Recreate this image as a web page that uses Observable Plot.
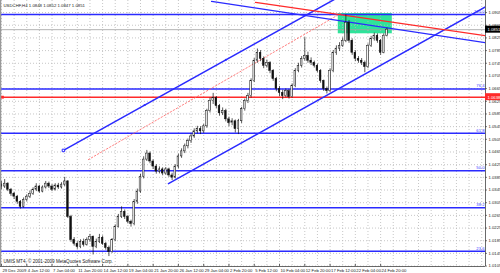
<!DOCTYPE html>
<html><head><meta charset="utf-8">
<script src="https://cdn.jsdelivr.net/npm/d3@7"></script>
<script src="https://cdn.jsdelivr.net/npm/@observablehq/plot@0.6"></script>
<style>body{margin:0;background:#fff;overflow:hidden}</style>
</head><body><div id="chart"></div>
<script>
// ---- text ----
const symbolTitle = "USDCHF,H4 1.0848 1.0852 1.0847 1.0851";
const copyright = "UMIS MT4, © 2001-2009 MetaQuotes Software Corp.";
const timeLabels = ["29 Dec 2009","4 Jan 12:00","7 Jan 04:00","11 Jan 20:00","14 Jan 12:00","19 Jan 04:00","21 Jan 20:00","26 Jan 12:00","29 Jan 04:00","2 Feb 20:00","5 Feb 12:00","10 Feb 04:00","12 Feb 20:00","17 Feb 12:00","22 Feb 04:00","24 Feb 20:00"];
const priceTicks = [1.0905,1.0865,1.0825,1.0785,1.0745,1.0705,1.0665,1.0625,1.0585,1.0545,1.0505,1.0465,1.0425,1.0385,1.0345,1.0305,1.0265,1.0225,1.0185,1.0145,1.0105];

// ---- candles (each candle = 2 H4 bars) ----
const firstOpen = 1.0362;
const closes = [1.0356,1.0365,1.0346,1.0333,1.0324,1.0308,1.0292,1.0314,1.0324,1.0333,
1.0346,1.0356,1.0340,1.0353,1.0365,1.0356,1.0346,1.0359,1.0353,1.0362,
1.0372,1.0260,1.0187,1.0175,1.0165,1.0181,1.0172,1.0187,1.0197,1.0165,
1.0181,1.0194,1.0175,1.0162,1.0149,1.0187,1.0229,1.0260,1.0276,1.0260,
1.0245,1.0238,1.0308,1.0340,1.0387,1.0441,1.0460,1.0435,1.0419,1.0403,
1.0410,1.0397,1.0410,1.0391,1.0384,1.0419,1.0451,1.0467,1.0483,1.0499,
1.0514,1.0530,1.0537,1.0530,1.0546,1.0594,1.0626,1.0635,1.0610,1.0587,
1.0594,1.0568,1.0556,1.0562,1.0537,1.0562,1.0600,1.0626,1.0641,1.0689,
1.0753,1.0778,1.0759,1.0737,1.0746,1.0721,1.0695,1.0664,1.0651,1.0641,
1.0657,1.0638,1.0673,1.0721,1.0737,1.0759,1.0768,1.0753,1.0746,1.0737,
1.0721,1.0689,1.0664,1.0657,1.0721,1.0778,1.0791,1.0800,1.0816,1.0873,
1.0816,1.0778,1.0759,1.0753,1.0746,1.0733,1.0800,1.0822,1.0832,1.0816,
1.0778,1.0832,1.0851];
const highs = [1.0372,1.0378,1.0368,1.0350,1.0338,1.0328,1.0312,1.0320,1.0330,1.0342,
1.0352,1.0365,1.0360,1.0358,1.0372,1.0370,1.0362,1.0365,1.0366,1.0368,
1.0385,1.0375,1.0265,1.0195,1.0182,1.0188,1.0190,1.0194,1.0205,1.0200,
1.0190,1.0205,1.0200,1.0180,1.0168,1.0192,1.0235,1.0268,1.0292,1.0282,
1.0265,1.0250,1.0315,1.0348,1.0395,1.0450,1.0470,1.0465,1.0440,1.0425,
1.0418,1.0415,1.0416,1.0414,1.0398,1.0425,1.0458,1.0475,1.0490,1.0506,
1.0522,1.0538,1.0546,1.0545,1.0552,1.0600,1.0635,1.0650,1.0640,1.0615,
1.0604,1.0600,1.0575,1.0570,1.0566,1.0568,1.0606,1.0632,1.0650,1.0696,
1.0760,1.0790,1.0785,1.0765,1.0755,1.0750,1.0725,1.0700,1.0672,1.0660,
1.0664,1.0662,1.0680,1.0728,1.0745,1.0766,1.0826,1.0780,1.0762,1.0752,
1.0742,1.0725,1.0692,1.0670,1.0728,1.0785,1.0800,1.0810,1.0825,1.0898,
1.0880,1.0822,1.0785,1.0766,1.0760,1.0752,1.0806,1.0830,1.0840,1.0838,
1.0820,1.0838,1.0856];
const lows = [1.0346,1.0350,1.0340,1.0325,1.0315,1.0300,1.0285,1.0288,1.0308,1.0318,
1.0328,1.0340,1.0335,1.0336,1.0348,1.0350,1.0340,1.0342,1.0347,1.0348,
1.0356,1.0255,1.0180,1.0168,1.0158,1.0160,1.0165,1.0168,1.0180,1.0140,
1.0160,1.0176,1.0170,1.0155,1.0135,1.0145,1.0182,1.0225,1.0255,1.0252,
1.0238,1.0228,1.0232,1.0300,1.0335,1.0380,1.0435,1.0428,1.0410,1.0395,
1.0396,1.0390,1.0392,1.0385,1.0375,1.0380,1.0412,1.0445,1.0460,1.0475,
1.0492,1.0508,1.0522,1.0520,1.0524,1.0540,1.0588,1.0615,1.0602,1.0578,
1.0580,1.0560,1.0545,1.0548,1.0525,1.0520,1.0555,1.0594,1.0618,1.0635,
1.0684,1.0745,1.0750,1.0728,1.0730,1.0712,1.0688,1.0655,1.0640,1.0630,
1.0636,1.0632,1.0635,1.0668,1.0715,1.0730,1.0752,1.0745,1.0738,1.0730,
1.0715,1.0682,1.0656,1.0648,1.0652,1.0715,1.0770,1.0782,1.0795,1.0810,
1.0808,1.0770,1.0750,1.0745,1.0738,1.0715,1.0728,1.0795,1.0815,1.0808,
1.0770,1.0775,1.0828];

// ---- drawn objects (t = candle index, price) ----
const channelUpper = [{t:19.6, price:1.0470},{t:106, price:1.0950}];
const channelLower = [{t:52.85, price:1.0365},{t:153.2, price:1.0923}];
const channelAnchors = [{t:19.6, price:1.0470},{t:45.3, price:1.0613},{t:71, price:1.0756}];
const resistanceBlue = [{t:66.5, price:1.0940},{t:153.2, price:1.0810}];
const resistanceRed = [{t:80.4, price:1.0937},{t:153.2, price:1.0832}];
const fibTrend = [{t:27.5, price:1.0441},{t:107.3, price:1.0902}];
const fibLevels = [1.0899,1.0664,1.0524,1.0406,1.0289,1.0152];
const fibNames = ["100.0","76.4","61.8","50.0","38.2","23.6"];
const supportLevel = 1.0638;
const zoneT = [106.6, 123.7];
const zonePrice = [1.0838, 1.0902];
const lastPrice = 1.0851;

// ---- build ----
const candles = closes.map((c, i) => ({
  i, open: i === 0 ? firstOpen : closes[i - 1], close: c, high: highs[i], low: lows[i]
}));
const xDomain = [-0.316, 153.2];
const yDomain = [1.010365, 1.09431];
const gridX = d3.range(0, 153, 4);
const tickT = timeLabels.map((_, k) => 8 * k);
const boxW = 5;
const font = "Liberation Sans, DejaVu Sans, sans-serif";

const chart = Plot.plot({
  width: 500, height: 273,
  marginLeft: 0, marginRight: 15, marginTop: 0, marginBottom: 7,
  x: {type: "linear", domain: xDomain, axis: null},
  y: {type: "linear", domain: yDomain, axis: null},
  style: {fontFamily: font, background: "white", overflow: "visible"},
  marks: [
    Plot.rect([0], {x1: zoneT[0], x2: zoneT[1], y1: zonePrice[0], y2: zonePrice[1], fill: "#2fe39a"}),
    Plot.ruleX(gridX, {x: d => d, stroke: "#b8b8b8", strokeDasharray: "1,2", strokeWidth: 0.8}),
    Plot.ruleY(priceTicks, {y: d => d, stroke: "#b8b8b8", strokeDasharray: "1,2", strokeWidth: 0.8}),
    Plot.ruleY(fibLevels, {y: d => d, stroke: "#2a2aff", strokeWidth: 1.5}),
    Plot.ruleY([lastPrice], {y: d => d, stroke: "#a0a0a0", strokeWidth: 0.8}),
    Plot.ruleY([supportLevel], {y: d => d, stroke: "#ff2a2a", strokeWidth: 1.5}),
    Plot.dot([{t: 0.3, price: supportLevel}], {x: "t", y: "price", symbol: "square", r: 1.6, fill: "#ff2a2a"}),
    Plot.line(fibTrend, {x: "t", y: "price", stroke: "#ff6060", strokeWidth: 0.8, strokeDasharray: "1.5,2", clip: true}),
    Plot.line(channelUpper, {x: "t", y: "price", stroke: "#2a2aff", strokeWidth: 1.5, clip: true}),
    Plot.line(channelLower, {x: "t", y: "price", stroke: "#2a2aff", strokeWidth: 1.5, clip: true}),
    Plot.line(resistanceBlue, {x: "t", y: "price", stroke: "#2a2aff", strokeWidth: 1.3, clip: true}),
    Plot.line(resistanceRed, {x: "t", y: "price", stroke: "#ff2a2a", strokeWidth: 1.3, clip: true}),
    Plot.dot(channelAnchors.slice(0, 1), {x: "t", y: "price", symbol: "square", r: 1.4, stroke: "#2a2aff", fill: "white", strokeWidth: 1}),
    Plot.dot(channelAnchors.slice(1), {x: "t", y: "price", symbol: "square", r: 1, fill: "#2a2aff"}),
    Plot.ruleX(candles, {x: "i", y1: "low", y2: "high", stroke: "#111", strokeWidth: 0.7}),
    Plot.rect(candles, {
      x1: d => d.i - 0.26, x2: d => d.i + 0.26,
      y1: "open", y2: "close",
      fill: d => d.close >= d.open ? "#f4f4f4" : "#111", stroke: "#111", strokeWidth: 0.5
    }),
    Plot.text(fibLevels, {x: () => xDomain[1], y: d => d, text: (d, i) => fibNames[i], textAnchor: "end", dx: -1, dy: -3, fill: "#4040ff", fontSize: 4.2}),
    Plot.ruleX([xDomain[1]], {x: d => d, stroke: "#444", strokeWidth: 0.8}),
    Plot.ruleY([yDomain[0]], {y: d => d, stroke: "#444", strokeWidth: 0.8}),
    Plot.ruleX([xDomain[0]], {x: d => d, stroke: "#999", strokeWidth: 1.5}),
    Plot.ruleY(priceTicks, {y: d => d, x1: () => xDomain[1], x2: () => xDomain[1] + 0.6, stroke: "#444", strokeWidth: 0.8}),
    Plot.text(priceTicks, {x: () => xDomain[1], y: d => d, text: d => d.toFixed(4), textAnchor: "start", dx: 3, fontSize: 4.2, fill: "#222"}),
    Plot.rect([supportLevel], {x1: () => xDomain[1], x2: () => xDomain[1] + boxW, y1: d => d - 0.0011, y2: d => d + 0.0011, fill: "#ff2a2a"}),
    Plot.text([supportLevel], {x: () => xDomain[1], y: d => d, text: d => d.toFixed(4), textAnchor: "start", dx: 2, fontSize: 4.2, fill: "white"}),
    Plot.rect([lastPrice], {x1: () => xDomain[1], x2: () => xDomain[1] + boxW, y1: d => d - 0.0011, y2: d => d + 0.0011, fill: "#000"}),
    Plot.text([lastPrice], {x: () => xDomain[1], y: d => d, text: d => d.toFixed(4), textAnchor: "start", dx: 2, fontSize: 4.2, fill: "white"}),
    Plot.text(timeLabels, {x: (d, k) => tickT[k], y: () => yDomain[0], text: d => d, textAnchor: "start", dx: 1, dy: 4, fontSize: 4.2, fill: "#222"}),
    Plot.ruleX(tickT, {x: d => d, y1: () => yDomain[0], y2: () => yDomain[0] + 0.0007, stroke: "#444", strokeWidth: 0.8}),
    Plot.text([symbolTitle], {x: () => xDomain[0], y: () => yDomain[1], text: d => d, textAnchor: "start", dx: 3, dy: 5, fontSize: 4.3, fill: "#222"}),
    Plot.text([copyright], {x: () => xDomain[0], y: () => yDomain[0], text: d => d, textAnchor: "start", dx: 3, dy: -5, fontSize: 4.6, fill: "#222"})
  ]
});
document.getElementById("chart").appendChild(chart);
</script>
</body></html>
